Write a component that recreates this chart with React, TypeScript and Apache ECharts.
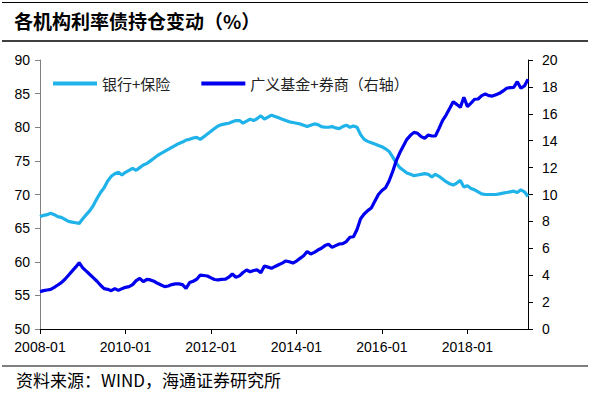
import React, { useEffect, useRef } from "react";
import * as echarts from "echarts";

const months: string[] = [];
for (let y = 2008; y <= 2019; y++) {
  for (let m = 1; m <= 12; m++) {
    if (y === 2019 && m > 6) break;
    months.push(`${y}-${m < 10 ? "0" + m : m}`);
  }
}

const bankInsurance = [
  66.7, 66.9, 67.0, 67.2, 67.0, 66.7, 66.6, 66.3, 66.0, 65.9, 65.8, 65.7,
  66.4, 67.0, 67.6, 68.4, 69.4, 70.3, 71.0, 72.0, 72.7, 73.1, 73.3, 72.9,
  73.3, 73.6, 73.9, 73.6, 74.0, 74.4, 74.6, 75.0, 75.4, 75.8, 76.1, 76.4,
  76.7, 77.0, 77.3, 77.6, 77.8, 78.1, 78.2, 78.4, 78.5, 78.2, 78.6, 79.0,
  79.4, 79.8, 80.2, 80.4, 80.5, 80.6, 80.8, 81.0, 81.0, 80.6, 80.9, 81.2,
  81.0, 81.3, 81.7, 81.2, 81.5, 81.8, 81.6, 81.4, 81.2, 81.0, 80.8, 80.7,
  80.6, 80.5, 80.3, 80.1, 80.3, 80.5, 80.4, 80.1, 80.0, 80.0, 80.1, 79.9,
  79.8, 80.1, 80.3, 80.0, 80.2, 80.0, 78.9, 78.2, 77.9, 77.7, 77.5, 77.3,
  77.1, 76.8, 76.4, 75.6, 74.7, 74.0, 73.6, 73.2, 73.0, 72.8, 72.9, 73.0,
  73.1, 73.0, 72.6, 73.0, 72.7, 72.3, 71.9, 71.6, 71.4, 71.7, 72.1, 71.1,
  71.3, 70.9, 70.7, 70.4, 70.1, 70.0, 70.0, 70.0, 70.0, 70.1, 70.2, 70.3,
  70.4, 70.5, 70.3, 70.7, 70.4, 69.7,
];

const fundBroker = [
  2.78, 2.85, 2.9, 2.95, 3.1, 3.27, 3.45, 3.7, 4.0, 4.3, 4.6, 4.93,
  4.55, 4.3, 4.05, 3.8, 3.55, 3.25, 3.0, 2.95, 2.85, 3.0, 2.87, 3.0,
  3.1, 3.15, 3.3, 3.6, 3.77, 3.52, 3.69, 3.65, 3.55, 3.4, 3.27, 3.15,
  3.2, 3.3, 3.35, 3.35, 3.3, 3.02, 3.45, 3.55, 3.7, 4.01, 3.98, 3.94,
  3.8, 3.68, 3.65, 3.69, 3.7, 3.85, 4.09, 3.85, 3.95, 4.2, 4.39, 4.26,
  4.35, 4.39, 4.19, 4.68, 4.6, 4.51, 4.65, 4.78, 4.9, 5.06, 5.0, 4.9,
  5.05, 5.25, 5.45, 5.75, 5.58, 5.7, 5.87, 6.0, 6.2, 6.3, 6.07, 6.2,
  6.32, 6.35, 6.5, 6.82, 6.86, 7.4, 8.2, 8.55, 8.8, 9.0, 9.5, 10.0,
  10.3, 10.5, 11.0, 11.7, 12.5, 13.1, 13.6, 14.1, 14.4, 14.62, 14.55, 14.3,
  14.18, 14.42, 14.35, 14.35, 14.9, 15.5, 15.91, 16.4, 16.9, 16.7, 16.48, 17.23,
  16.53, 16.8, 17.08, 17.1, 17.35, 17.47, 17.35, 17.32, 17.42, 17.52, 17.7, 17.9,
  17.95, 17.97, 18.39, 17.9, 18.07, 18.57,
];

const seriesNames = ["银行+保险", "广义基金+券商（右轴）"];
const title = "各机构利率债持仓变动（%）";
const source = "资料来源：WIND，海通证券研究所";

const latin = "'Liberation Sans', Arial, sans-serif";
const cjk = "'Noto Sans CJK SC', sans-serif";

export default function App() {
  const ref = useRef<HTMLDivElement>(null);
  useEffect(() => {
    if (!ref.current) return;
    const chart = echarts.init(ref.current, undefined, { renderer: "svg" });
    chart.setOption({
      animation: false,
      backgroundColor: "#fff",
      grid: { left: 40, right: 63, top: 60, bottom: 65 },
      legend: {
        left: 48,
        top: 71,
        itemWidth: 44,
        itemHeight: 14,
        itemGap: 31,
        icon: "path://M0,6 L44,6 L44,10 L0,10 Z",
        textStyle: { fontFamily: cjk, fontSize: 15, color: "#222" },
        data: seriesNames,
      },
      xAxis: {
        type: "category",
        data: months,
        boundaryGap: false,
        axisLine: { lineStyle: { color: "#000", width: 1 } },
        axisTick: { interval: 23, length: 5, lineStyle: { color: "#000" } },
        axisLabel: {
          interval: 23,
          margin: 11,
          fontFamily: latin,
          fontSize: 14,
          color: "#000",
        },
        splitLine: { show: false },
      },
      yAxis: [
        {
          type: "value",
          min: 50,
          max: 90,
          interval: 5,
          axisLine: { show: true, lineStyle: { color: "#808080" } },
          axisTick: { show: true, length: 5, lineStyle: { color: "#808080" } },
          axisLabel: { margin: 10, fontFamily: latin, fontSize: 14, color: "#000" },
          splitLine: { show: false },
        },
        {
          type: "value",
          min: 0,
          max: 20,
          interval: 2,
          position: "right",
          axisLine: { show: true, lineStyle: { color: "#000" } },
          axisTick: { show: true, length: 5, lineStyle: { color: "#000" } },
          axisLabel: { margin: 14, fontFamily: latin, fontSize: 14, color: "#000" },
          splitLine: { show: false },
        },
      ],
      series: [
        {
          name: seriesNames[0],
          type: "line",
          data: bankInsurance,
          yAxisIndex: 0,
          showSymbol: false,
          symbol: "none",
          lineStyle: { width: 3.2, color: "#1FB3E9" },
          itemStyle: { color: "#1FB3E9" },
        },
        {
          name: seriesNames[1],
          type: "line",
          data: fundBroker,
          yAxisIndex: 1,
          showSymbol: false,
          symbol: "none",
          lineStyle: { width: 3.2, color: "#0000EE" },
          itemStyle: { color: "#0000EE" },
        },
      ],
      graphic: [
        {
          type: "line",
          shape: { x1: 2, y1: 2.5, x2: 588, y2: 2.5 },
          style: { stroke: "#000", lineWidth: 1 },
        },
        {
          type: "text",
          left: 14,
          top: 11,
          style: {
            text: title,
            font: `bold 19px ${cjk}`,
            fill: "#000",
          },
        },
        {
          type: "line",
          shape: { x1: 2, y1: 41, x2: 588, y2: 41 },
          style: { stroke: "#000", lineWidth: 1.5 },
        },
        {
          type: "line",
          shape: { x1: 2, y1: 366, x2: 588, y2: 366 },
          style: { stroke: "#000", lineWidth: 1.2 },
        },
        {
          type: "text",
          left: 16,
          top: 371,
          style: {
            text: source,
            font: `17px ${cjk}`,
            fill: "#000",
          },
        },
      ],
    });
    return () => chart.dispose();
  }, []);
  return (
    <div
      ref={ref}
      style={{ position: "fixed", left: 0, top: 0, width: 591, height: 394, background: "#fff" }}
    />
  );
}
